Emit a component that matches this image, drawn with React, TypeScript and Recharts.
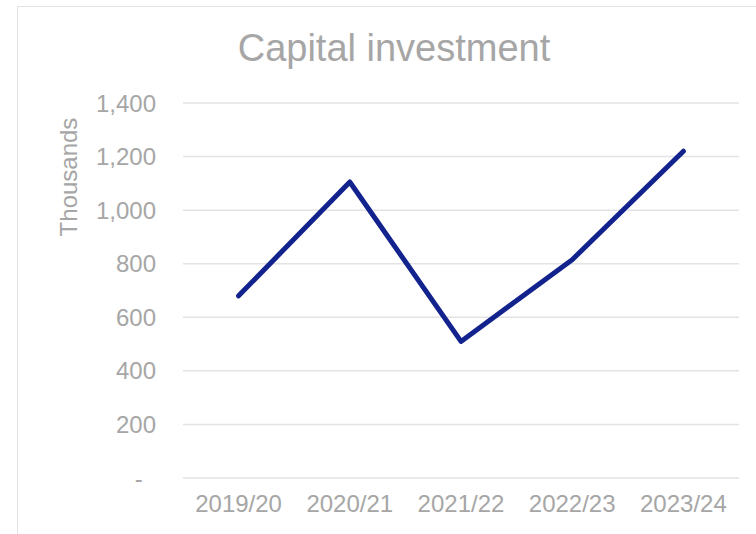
import React from 'react'
import { CartesianGrid, Label, Line, LineChart, XAxis, YAxis } from 'recharts'

const years = ['2019/20', '2020/21', '2021/22', '2022/23', '2023/24']
const investment = [680, 1105, 510, 815, 1220]
const yTicks = [0, 200, 400, 600, 800, 1000, 1200, 1400]

const data = years.map((year, i) => ({ year, value: investment[i] }))

const textColor = '#a6a6a6'
const font = '"Liberation Sans", Arial, sans-serif'

const formatTick = (v: number) =>
  v === 0 ? '-\u00a0\u00a0' : v.toLocaleString('en-US')

export default function App() {
  return (
    <div
      style={{
        position: 'absolute',
        left: 0,
        top: 0,
        width: 756,
        height: 534,
        background: '#fff',
        overflow: 'hidden',
        fontFamily: font
      }}
    >
      <div
        style={{
          position: 'absolute',
          left: 17,
          top: 6,
          width: 760,
          height: 560,
          border: '1.5px solid #e3e3e3',
          boxSizing: 'border-box'
        }}
      />
      <div
        style={{
          position: 'absolute',
          left: 0,
          width: 788,
          top: 26,
          textAlign: 'center',
          fontSize: 38,
          color: textColor,
          lineHeight: '44px'
        }}
      >
        Capital investment
      </div>
      <LineChart
        width={756}
        height={534}
        data={data}
        margin={{ top: 103, right: 17, bottom: 26, left: 0 }}
        style={{ position: 'absolute', left: 0, top: 0 }}
      >
        <CartesianGrid vertical={false} stroke="#e3e3e3" strokeWidth={1.5} />
        <XAxis
          dataKey="year"
          height={30}
          padding={{ left: 55.6, right: 55.6 }}
          axisLine={false}
          tickLine={false}
          tickSize={0}
          tickMargin={17}
          tick={{ fill: textColor, fontSize: 24, fontFamily: font }}
        />
        <YAxis
          width={183}
          domain={[0, 1400]}
          ticks={yTicks}
          tickFormatter={formatTick}
          axisLine={false}
          tickLine={false}
          tickSize={0}
          tickMargin={27}
          tick={{ fill: textColor, fontSize: 24, fontFamily: font }}
        >
          <Label
            content={() => (
              <text
                x={68}
                y={177}
                transform="rotate(-90 68 177)"
                textAnchor="middle"
                dominantBaseline="central"
                fill={textColor}
                fontSize={24}
                fontFamily={font}
              >
                Thousands
              </text>
            )}
          />
        </YAxis>
        <Line
          type="linear"
          dataKey="value"
          stroke="#13238e"
          strokeWidth={5}
          strokeLinecap="round"
          strokeLinejoin="round"
          dot={false}
          activeDot={false}
          isAnimationActive={false}
        />
      </LineChart>
    </div>
  )
}
